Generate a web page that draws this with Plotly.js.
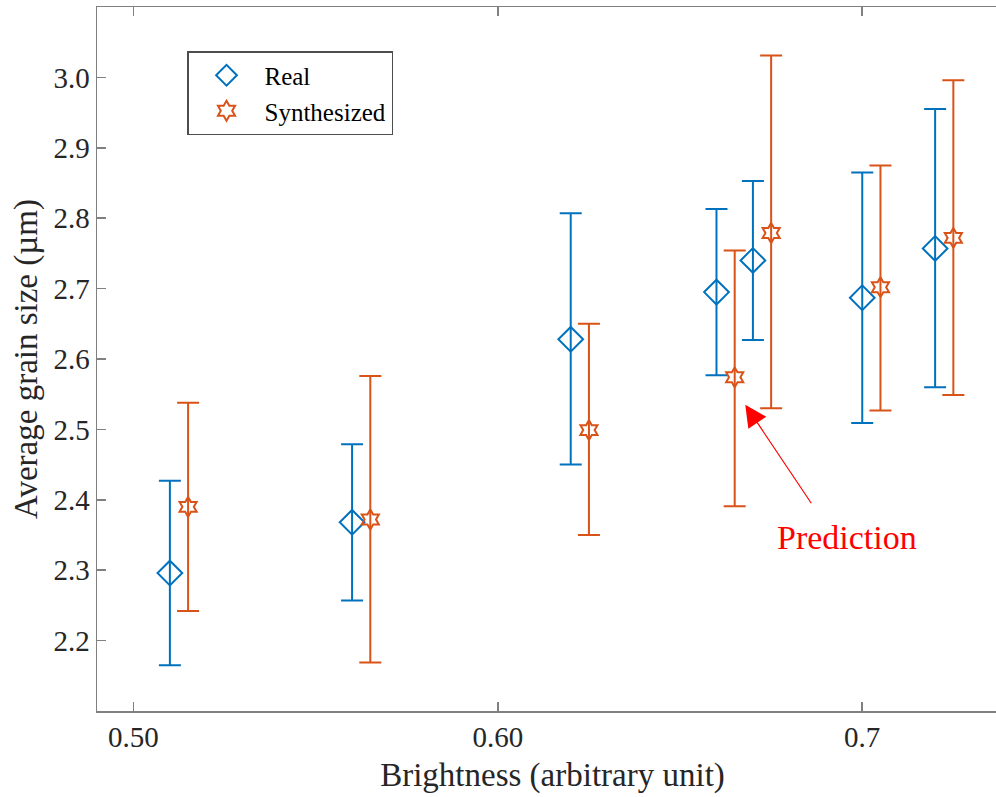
<!DOCTYPE html>
<html>
<head>
<meta charset="utf-8">
<script src="https://cdn.plot.ly/plotly-3.0.1.min.js"></script>
<style>
html, body { margin: 0; padding: 0; overflow: hidden; background: #fff; }
#chart { width: 1020px; height: 797px; }
</style>
</head>
<body>
<div id="chart"></div>
<script>
// Brightness values (x) for each series
const realX = [0.51, 0.56, 0.62, 0.66, 0.67, 0.70, 0.72];
const synthX = [0.515, 0.565, 0.625, 0.665, 0.675, 0.705, 0.725];

// Average grain size (µm): mean and error-bar bounds
const realMean = [2.296, 2.368, 2.628, 2.695, 2.740, 2.687, 2.757];
const realUpper = [2.427, 2.479, 2.807, 2.813, 2.853, 2.865, 2.955];
const realLower = [2.165, 2.257, 2.450, 2.577, 2.627, 2.509, 2.560];

const synthMean = [2.390, 2.372, 2.499, 2.574, 2.779, 2.702, 2.772];
const synthUpper = [2.538, 2.576, 2.650, 2.754, 3.031, 2.875, 2.996];
const synthLower = [2.242, 2.169, 2.350, 2.391, 2.530, 2.527, 2.549];

// Tick labels
const xTickVals = [0.5, 0.6, 0.7];
const xTickText = ['0.50', '0.60', '0.7'];
const yTickVals = [2.2, 2.3, 2.4, 2.5, 2.6, 2.7, 2.8, 2.9, 3.0];

const BLUE = '#0072BD';
const ORANGE = '#D95319';
const FONT = '"Liberation Serif", "Times New Roman", serif';

function plus(up, m) { return up.map((u, i) => u - m[i]); }
function minus(lo, m) { return lo.map((l, i) => m[i] - l); }

const traces = [
  {
    type: 'scatter', mode: 'markers', name: 'Real',
    x: realX, y: realMean,
    marker: { symbol: 'diamond-open', size: 19, color: BLUE, line: { color: BLUE, width: 2 } },
    error_y: { type: 'data', symmetric: false, array: plus(realUpper, realMean),
               arrayminus: minus(realLower, realMean), color: BLUE, thickness: 2, width: 11 }
  },
  {
    type: 'scatter', mode: 'markers', name: 'Synthesized',
    x: synthX, y: synthMean,
    marker: { symbol: 'hexagram-open', size: 15, color: ORANGE, line: { color: ORANGE, width: 2 } },
    error_y: { type: 'data', symmetric: false, array: plus(synthUpper, synthMean),
               arrayminus: minus(synthLower, synthMean), color: ORANGE, thickness: 2, width: 11 }
  }
];

const axisCommon = {
  showline: true, linecolor: '#808080', linewidth: 1.5, mirror: 'ticks',
  ticks: 'inside', ticklen: 9, tickwidth: 1.5, tickcolor: '#808080',
  showgrid: false, zeroline: false,
  tickfont: { family: FONT, size: 29, color: '#262626' }
};

const layout = {
  width: 1020, height: 797,
  margin: { l: 97, r: 12, t: 7, b: 86 },
  paper_bgcolor: '#ffffff', plot_bgcolor: '#ffffff',
  font: { family: FONT, color: '#262626' },
  showlegend: true,
  legend: {
    x: 0.0988, y: 0.9375, xanchor: 'left', yanchor: 'top',
    bordercolor: '#4d4d4d', borderwidth: 1.5, bgcolor: '#ffffff',
    font: { family: FONT, size: 25, color: '#000000' },
    itemwidth: 66
  },
  xaxis: Object.assign({}, axisCommon, {
    range: [0.49, 0.74],
    tickvals: xTickVals, ticktext: xTickText,
    title: { text: 'Brightness (arbitrary unit)', font: { family: FONT, size: 33, color: '#262626' }, standoff: 10 }
  }),
  yaxis: Object.assign({}, axisCommon, {
    range: [2.1, 3.1],
    tickvals: yTickVals, tickformat: '.1f',
    title: { text: 'Average grain size (µm)', font: { family: FONT, size: 33, color: '#262626' }, standoff: 6 }
  }),
  annotations: [
    {
      x: 0.6679, y: 2.535, xref: 'x', yref: 'y',
      ax: 0.6863, ay: 2.393, axref: 'x', ayref: 'y',
      text: '', showarrow: true, arrowhead: 2, arrowsize: 3.6, arrowwidth: 1.2, arrowcolor: '#FF0000'
    },
    {
      x: 0.6959, y: 2.346, xref: 'x', yref: 'y',
      text: 'Prediction', showarrow: false,
      font: { family: FONT, size: 34, color: '#FF0000' }
    }
  ]
};

Plotly.newPlot('chart', traces, layout, { displayModeBar: false, staticPlot: true });
</script>
</body>
</html>
